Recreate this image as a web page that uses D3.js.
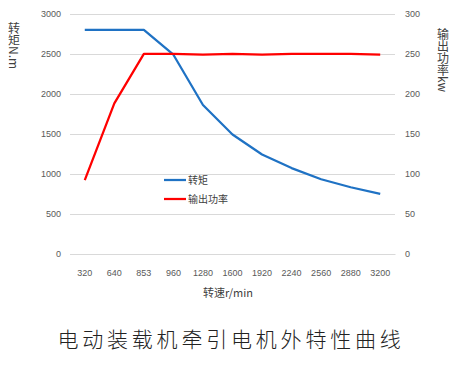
<!DOCTYPE html>
<html><head><meta charset="utf-8">
<script src="https://cdn.jsdelivr.net/npm/d3@7"></script>
<style>
body{margin:0;background:#fff;}
svg{display:block;font-family:"Noto Sans CJK SC","Noto Sans",sans-serif;}
</style></head>
<body><svg id="c" width="458" height="366"></svg>
<script>
const categories = ["320","640","853","960","1280","1600","1920","2240","2560","2880","3200"];
const torque = [2800,2800,2800,2490,1860,1490,1240,1070,930,830,748];
const power = [92,188,250,250,249,250,249,250,250,250,249];
const leftTicks = [0,500,1000,1500,2000,2500,3000];
const rightTicks = [0,50,100,150,200,250,300];
const title = "电动装载机牵引电机外特性曲线";
const xTitle = "转速r/min";
const yLeftTitle = "转矩N.m";
const yRightTitle = "输出功率kw";
const seriesNames = ["转矩","输出功率"];

const svg = d3.select("#c");
const L = 70, R = 395, T = 14, B = 253.5;
const x = d3.scaleBand().domain(categories).range([L, R]);
const yL = d3.scaleLinear().domain([0,3000]).range([B, T]);
const yR = d3.scaleLinear().domain([0,300]).range([B, T]);

// gridlines
svg.append("g").selectAll("line").data(leftTicks).join("line")
  .attr("x1", L).attr("x2", R)
  .attr("y1", d => Math.round(yL(d))+0.5).attr("y2", d => Math.round(yL(d))+0.5)
  .attr("stroke", "#d9d9d9").attr("stroke-width", 1);

// left axis
const axL = svg.append("g").attr("transform", `translate(${L-9},0)`)
  .call(d3.axisLeft(yL).tickValues(leftTicks).tickFormat(d3.format("d")).tickSize(0).tickPadding(0));
axL.select(".domain").remove();
axL.selectAll("text").attr("fill","#595959").style("font-size","9px").style("font-family","Liberation Sans, Arial, sans-serif");

// right axis
const axR = svg.append("g").attr("transform", `translate(${R+10},0)`)
  .call(d3.axisRight(yR).tickValues(rightTicks).tickFormat(d3.format("d")).tickSize(0).tickPadding(0));
axR.select(".domain").remove();
axR.selectAll("text").attr("fill","#595959").style("font-size","9px").style("font-family","Liberation Sans, Arial, sans-serif");

// bottom axis
const axB = svg.append("g").attr("transform", `translate(0,${B+0.5})`)
  .call(d3.axisBottom(x).tickSize(0).tickPadding(16));
axB.select(".domain").attr("stroke","#d9d9d9");
axB.selectAll("text").attr("fill","#595959").style("font-size","9px").style("font-family","Liberation Sans, Arial, sans-serif");

// lines
const cx = d => x(d) + x.bandwidth()/2;
const lineT = d3.line().x((d,i)=>cx(categories[i])).y(d=>yL(d));
const lineP = d3.line().x((d,i)=>cx(categories[i])).y(d=>yR(d));
svg.append("path").datum(torque).attr("d", lineT).attr("fill","none")
  .attr("stroke","#1f72c4").attr("stroke-width",2.25).attr("stroke-linejoin","round");
svg.append("path").datum(power).attr("d", lineP).attr("fill","none")
  .attr("stroke","#ff0000").attr("stroke-width",2.25).attr("stroke-linejoin","round");

// legend
const colors = ["#1f72c4","#ff0000"];
const lg = svg.append("g");
seriesNames.forEach((n,i)=>{
  const yy = 180 + i*19;
  lg.append("line").attr("x1",164).attr("x2",186).attr("y1",yy).attr("y2",yy)
    .attr("stroke",colors[i]).attr("stroke-width",2.25);
  lg.append("text").attr("x",188).attr("y",yy+3.5).text(n)
    .attr("fill","#404040").style("font-size","10px");
});

// axis titles
svg.append("text").attr("x",228).attr("y",297).attr("text-anchor","middle")
  .text(xTitle).attr("fill","#404040").style("font-size","11px");
svg.append("text").attr("x",14).attr("y",22)
  .style("writing-mode","vertical-rl").text(yLeftTitle)
  .attr("fill","#404040").style("font-size","12px");
svg.append("text").attr("x",443).attr("y",28)
  .style("writing-mode","vertical-rl").text(yRightTitle)
  .attr("fill","#404040").style("font-size","12px");

// title
svg.append("text").attr("x",231).attr("y",347).attr("text-anchor","middle")
  .text(title).attr("fill","#222").style("font-size","21px").style("font-weight","300")
  .style("letter-spacing","3.8px");
</script></body></html>
